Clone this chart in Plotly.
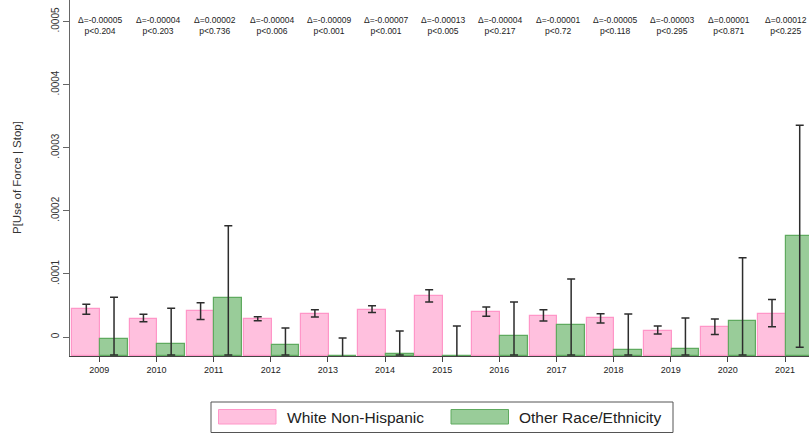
import numpy as np
import plotly.graph_objects as go

# ---------------- data ----------------
years = [2009, 2010, 2011, 2012, 2013, 2014, 2015, 2016, 2017, 2018, 2019, 2020, 2021]
year_labels = [str(y) for y in years]

white = [0.0000439, 0.0000285, 0.0000412, 0.0000285, 0.0000370, 0.0000433, 0.0000645,
         0.0000391, 0.0000338, 0.0000296, 0.0000100, 0.0000158, 0.0000370]
white_hi = [0.0000518, 0.0000360, 0.0000544, 0.0000322, 0.0000433, 0.0000497, 0.0000750,
            0.0000475, 0.0000433, 0.0000370, 0.0000174, 0.0000285, 0.0000597]
white_lo = [0.0000360, 0.0000243, 0.0000280, 0.0000259, 0.0000317, 0.0000391, 0.0000555,
            0.0000328, 0.0000254, 0.0000222, 0.0000048, 0.0000042, 0.0000164]

other = [-0.0000037, -0.0000111, 0.0000623, -0.0000127, -0.0000530, -0.0000270, -0.0000660,
         0.0000016, 0.0000195, -0.0000211, -0.0000190, 0.0000254, 0.0001600]
other_hi = [0.0000629, 0.0000455, 0.0001764, 0.0000143, -0.0000016, 0.0000095, 0.0000174,
            0.0000555, 0.0000919, 0.0000364, 0.0000301, 0.0001257, 0.0003355]
other_lo = [-0.0000285, -0.0000285, -0.0000285, -0.0000285, -0.0000285, -0.0000285, -0.0000285,
            -0.0000285, -0.0000285, -0.0000285, -0.0000285, -0.0000285, -0.0000163]

delta_labels = ["Δ=-0.00005", "Δ=-0.00004", "Δ=0.00002", "Δ=-0.00004", "Δ=-0.00009",
                "Δ=-0.00007", "Δ=-0.00013", "Δ=-0.00004", "Δ=-0.00001", "Δ=-0.00005",
                "Δ=-0.00003", "Δ=0.00001", "Δ=0.00012"]
p_labels = ["p<0.204", "p<0.203", "p<0.736", "p<0.006", "p<0.001", "p<0.001", "p<0.005",
            "p<0.217", "p<0.72", "p<0.118", "p<0.295", "p<0.871", "p<0.225"]

y_tickvals = [0, 0.0001, 0.0002, 0.0003, 0.0004, 0.0005]
y_ticktext = ["0", ".0001", ".0002", ".0003", ".0004", ".0005"]

series_names = ["White Non-Hispanic", "Other Race/Ethnicity"]

# ---------------- style ----------------
YMIN, YMAX = -0.00003, 0.000534
XMIN, XMAX = 2008.487, 2021.42
PINK_FILL, PINK_LINE = "rgb(255,192,222)", "rgb(255,150,200)"
GREEN_FILL, GREEN_LINE = "rgb(153,204,153)", "rgb(95,170,95)"
ERR_COLOR = "rgb(45,45,45)"
FONT = "Liberation Sans, Arial, sans-serif"

W, H = 809, 434
ML, MR, MT, MB = 70, 0, 0, 78
PW, PH = W - ML - MR, H - MT - MB


def px_x(px):
    return (px - ML) / PW


def px_y(py):
    return (MT + PH - py) / PH


w = np.array(white)
o = np.array(other)
fig = go.Figure()

fig.add_trace(go.Bar(
    x=years, y=w - YMIN, base=YMIN, offset=-0.47, width=0.485,
    marker=dict(color=PINK_FILL, line=dict(color=PINK_LINE, width=1.2)),
    error_y=dict(type="data", symmetric=False,
                 array=np.array(white_hi) - w,
                 arrayminus=w - np.array(white_lo),
                 color=ERR_COLOR, thickness=1.5, width=4),
    name=series_names[0], showlegend=False,
))
fig.add_trace(go.Bar(
    x=years, y=o - YMIN, base=YMIN, offset=0.015, width=0.485,
    marker=dict(color=GREEN_FILL, line=dict(color=GREEN_LINE, width=1.2)),
    error_y=dict(type="data", symmetric=False,
                 array=np.array(other_hi) - o,
                 arrayminus=np.maximum(o - np.array(other_lo), 0),
                 color=ERR_COLOR, thickness=1.5, width=4),
    name=series_names[1], showlegend=False,
))

annotations = []
for yr, d, p in zip(years, delta_labels, p_labels):
    annotations.append(dict(x=yr + 0.02, y=px_y(25.3), xref="x", yref="paper",
                            text=d + "<br>" + p,
                            showarrow=False, xanchor="center", yanchor="middle",
                            font=dict(family=FONT, size=8.5, color="#222")))

# y-axis title
annotations.append(dict(x=px_x(17), y=px_y(178), xref="paper", yref="paper",
                        text="P[Use of Force | Stop]", textangle=-90, showarrow=False,
                        xanchor="center", yanchor="middle",
                        font=dict(family=FONT, size=11.5, color="#333")))

# manual legend
shapes = [
    dict(type="rect", xref="paper", yref="paper", x0=px_x(211), x1=px_x(673),
         y0=px_y(432.5), y1=px_y(402), line=dict(color="#555", width=1), fillcolor="white"),
    dict(type="rect", xref="paper", yref="paper", x0=px_x(218.5), x1=px_x(276),
         y0=px_y(424), y1=px_y(409.5), line=dict(color=PINK_LINE, width=1), fillcolor=PINK_FILL),
    dict(type="rect", xref="paper", yref="paper", x0=px_x(451), x1=px_x(508.5),
         y0=px_y(424), y1=px_y(409.5), line=dict(color=GREEN_LINE, width=1), fillcolor=GREEN_FILL),
]
annotations.append(dict(x=px_x(285), y=px_y(417), xref="paper", yref="paper",
                        text=series_names[0], showarrow=False, xanchor="left", yanchor="middle",
                        font=dict(family=FONT, size=15.5, color="#222")))
annotations.append(dict(x=px_x(517), y=px_y(417), xref="paper", yref="paper",
                        text=series_names[1], showarrow=False, xanchor="left", yanchor="middle",
                        font=dict(family=FONT, size=15.5, color="#222")))

fig.update_layout(
    width=W, height=H,
    margin=dict(l=ML, r=MR, t=MT, b=MB, pad=0),
    paper_bgcolor="white", plot_bgcolor="white",
    barmode="overlay", bargap=0,
    showlegend=False,
    annotations=annotations, shapes=shapes,
    font=dict(family=FONT),
)
fig.update_xaxes(range=[XMIN, XMAX], tickvals=years, ticktext=year_labels,
                 showline=True, linecolor="#444", linewidth=1, ticks="outside",
                 ticklen=5, tickcolor="#444", showgrid=False, zeroline=False,
                 tickfont=dict(family=FONT, size=9, color="#222"))
fig.update_yaxes(range=[YMIN, YMAX], tickvals=y_tickvals, ticktext=y_ticktext,
                 tickangle=-90, showline=True, linecolor="#666", linewidth=1,
                 ticks="outside", ticklen=6, tickcolor="#666", showgrid=False,
                 zeroline=False, tickfont=dict(family=FONT, size=10, color="#333"))

fig.write_html("out.html", config={"displayModeBar": False},
               post_script="document.body.style.margin='0px';document.body.style.overflow='hidden';")
